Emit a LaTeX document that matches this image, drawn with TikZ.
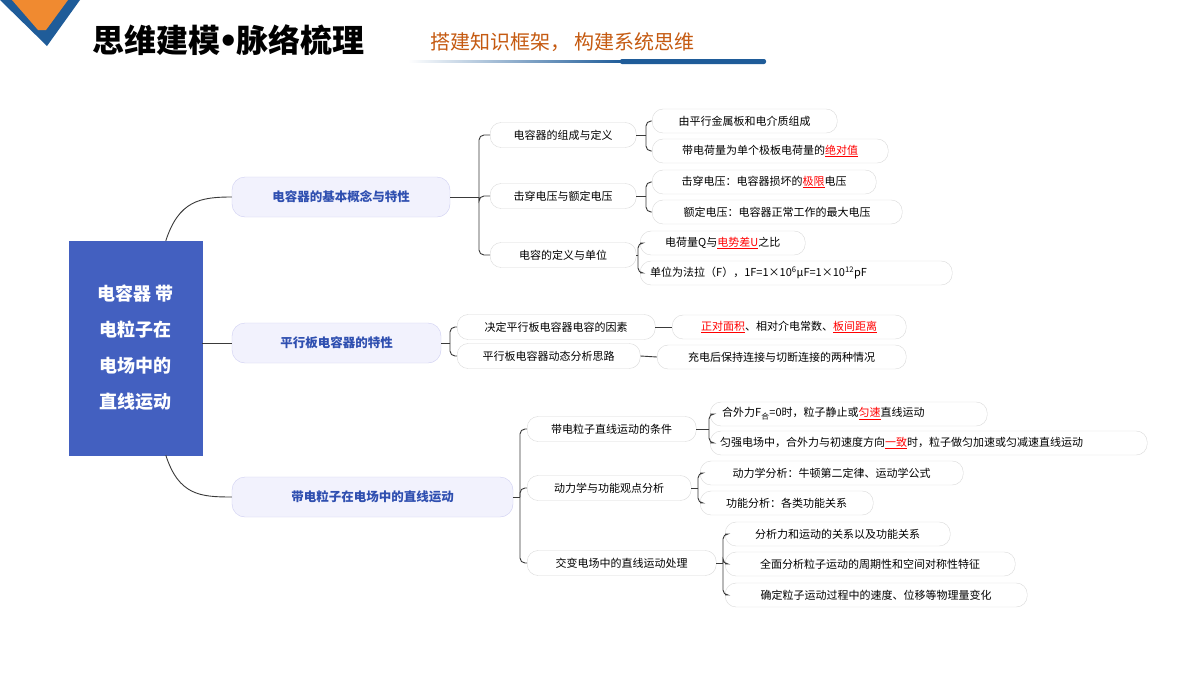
\documentclass[tikz,border=0pt]{standalone}
\usepackage{fontspec}
\setmainfont{Noto Sans CJK SC}
\newfontfamily\dv{DejaVu Sans}
\usetikzlibrary{calc}
\definecolor{rootc}{HTML}{4360C0}
\definecolor{lv1f}{HTML}{F2F2FD}
\definecolor{lv1d}{HTML}{CFCFF2}
\definecolor{lv1t}{HTML}{2F4FB0}
\definecolor{edge}{HTML}{3A3A3A}
\definecolor{leafd}{HTML}{DADADA}
\definecolor{subt}{HTML}{C55A11}
\definecolor{hblue}{HTML}{1F5C99}
\definecolor{horange}{HTML}{F08A30}
\newcommand{\rd}[1]{{\color{red}\underline{#1}}}
\begin{document}
\begin{tikzpicture}[x=1pt,y=-1pt,
  lvone/.style={draw=lv1d,fill=lv1f,rounded corners=13,font=\fontsize{12.5}{14}\selectfont\bfseries,text=lv1t,minimum height=40,inner sep=0},
  lvtwo/.style={draw=leafd,fill=white,rounded corners=11,font=\fontsize{11}{12}\selectfont,minimum height=25,inner sep=0,anchor=west},
  leaf/.style={draw=leafd,fill=white,rounded corners=11,font=\fontsize{11}{12}\selectfont,minimum height=24,inner sep=0,anchor=west},
  con/.style={draw=edge,line width=0.9},
  br/.style={draw=edge,line width=0.9,rounded corners=5}]
\useasboundingbox (0,0) rectangle (1200,675);
\fill[white] (0,0) rectangle (1200,675);
% header
\fill[hblue] (0,0) -- (80,0) -- (47,46) -- cycle;
\fill[horange] (12,0) -- (68,0) -- (46,30) -- (38,30) -- cycle;
\node[font=\fontsize{32}{34}\selectfont\bfseries,anchor=west,inner sep=0] (title) at (92,40) {思维建模\kern-2pt{\dv\bfseries•}\kern-2pt 脉络梳理};
\node[font=\fontsize{20}{22}\selectfont,text=subt,anchor=west,inner sep=0] (sub) at (430,42) {搭建知识框架，\kern4pt 构建系统思维};
\shade[left color=white,right color=hblue] (408,60.5) rectangle (622,62.5);
\fill[hblue,rounded corners=2] (620,59) rectangle (766,64);
% root
\node[fill=rootc,draw=rootc,minimum width=133,minimum height=214,text=white,align=center,
  font=\fontsize{18}{36}\selectfont\bfseries,inner sep=0] (root) at (135.5,348) {电容器 带\\电粒子在\\电场中的\\直线运动};
% level 1
\node[lvone,minimum width=218] (A) at (341,197) {电容器的基本概念与特性};
\node[lvone,minimum width=209] (B) at (336.5,343) {平行板电容器的特性};
\node[lvone,minimum width=281] (C) at (372.5,497) {带电粒子在电场中的直线运动};
\draw[con] ($(root.north west)+(97,0)$) .. controls ($(root.north west)+(110,-40)$) and (200,197) .. (A.west);
\draw[con] (root.east|-B) -- (B.west);
\draw[con] ($(root.south west)+(97,0)$) .. controls ($(root.south west)+(110,40)$) and (200,497) .. (C.west);
% level 2 under A
\node[lvtwo,minimum width=146] (A1) at (490,135) {电容器的组成与定义};
\node[lvtwo,minimum width=146] (A2) at (490,196) {击穿电压与额定电压};
\node[lvtwo,minimum width=146] (A3) at (490,255) {电容的定义与单位};
\coordinate (ab) at (479,197);
\draw[con] (A.east) -- (ab);
\foreach \n in {A1,A2,A3} \draw[br] (ab) |- (\n.west);
% leaves A1
\node[leaf,minimum width=185] (a11) at (652,121) {由平行金属板和电介质组成};
\node[leaf,minimum width=236] (a12) at (652,151) {带电荷量为单个极板电荷量的\rd{绝对值}};
\coordinate (a1b) at (646,135);
\draw[con] (A1.east) -- (a1b);
\foreach \n in {a11,a12} \draw[br] (a1b) |- (\n.west);
% leaves A2
\node[leaf,minimum width=224] (a21) at (652,182) {击穿电压：电容器损坏的\rd{极限}电压};
\node[leaf,minimum width=250] (a22) at (652,212) {额定电压：电容器正常工作的最大电压};
\coordinate (a2b) at (646,196);
\draw[con] (A2.east) -- (a2b);
\foreach \n in {a21,a22} \draw[br] (a2b) |- (\n.west);
% leaves A3
\node[leaf,minimum width=165] (a31) at (640,243) {电荷量Q与\rd{电势差U}之比};
\node[leaf,minimum width=312,text width=292,align=left,inner xsep=10] (a32) at (640,273) {单位为法拉（F），1F=1×10\textsuperscript{6}μF=1×10\textsuperscript{12}pF};
\coordinate (a3b) at (638,255);
\draw[con] (A3.east) -- (a3b);
\foreach \n in {a31,a32} \draw[br] (a3b) |- (\n.west);
% level 2 under B
\node[lvtwo,minimum width=198] (B1) at (457,327) {决定平行板电容器电容的因素};
\node[lvtwo,minimum width=183] (B2) at (457,356) {平行板电容器动态分析思路};
\coordinate (bb) at (450,343);
\draw[con] (B.east) -- (bb);
\foreach \n in {B1,B2} \draw[br] (bb) |- (\n.west);
\node[leaf,minimum width=234] (b1) at (672,327) {\rd{正对面积}、相对介电常数、\rd{板间距离}};
\node[leaf,minimum width=249] (b2) at (657,357) {充电后保持连接与切断连接的两种情况};
\draw[con] (B1.east) -- (b1.west);
\draw[con] (B2.east) -- (b2.west);
% level 2 under C
\node[lvtwo,minimum width=169] (C1) at (527,429) {带电粒子直线运动的条件};
\node[lvtwo,minimum width=164] (C2) at (527,488) {动力学与功能观点分析};
\node[lvtwo,minimum width=189] (C3) at (527,563) {交变电场中的直线运动处理};
\coordinate (cb) at (520,497);
\draw[con] (C.east) -- (cb);
\foreach \n in {C1,C2,C3} \draw[br] (cb) |- (\n.west);
% leaves C1
\node[leaf,minimum width=277,text width=253,align=left,inner xsep=12] (c11) at (710,414) {合外力F\textsubscript{合}=0时，粒子静止或\rd{匀速}直线运动};
\node[leaf,minimum width=437,text width=417,align=left,inner xsep=10] (c12) at (710,443) {匀强电场中，合外力与初速度方向\rd{一致}时，粒子做匀加速或匀减速直线运动};
\coordinate (c1b) at (709,429);
\draw[con] (C1.east) -- (c1b);
\foreach \n in {c11,c12} \draw[br] (c1b) |- (\n.west);
% leaves C2
\node[leaf,minimum width=263] (c21) at (700,473) {动力学分析：牛顿第二定律、运动学公式};
\node[leaf,minimum width=173] (c22) at (700,503) {功能分析：各类功能关系};
\coordinate (c2b) at (698,488);
\draw[con] (C2.east) -- (c2b);
\foreach \n in {c21,c22} \draw[br] (c2b) |- (\n.west);
% leaves C3
\node[leaf,minimum width=225] (c31) at (725,534) {分析力和运动的关系以及功能关系};
\node[leaf,minimum width=290] (c32) at (725,564) {全面分析粒子运动的周期性和空间对称性特征};
\node[leaf,minimum width=302] (c33) at (725,595) {确定粒子运动过程中的速度、位移等物理量变化};
\coordinate (c3b) at (723,563);
\draw[con] (C3.east) -- (c3b);
\foreach \n in {c31,c32,c33} \draw[br] (c3b) |- (\n.west);
\end{tikzpicture}
\end{document}
